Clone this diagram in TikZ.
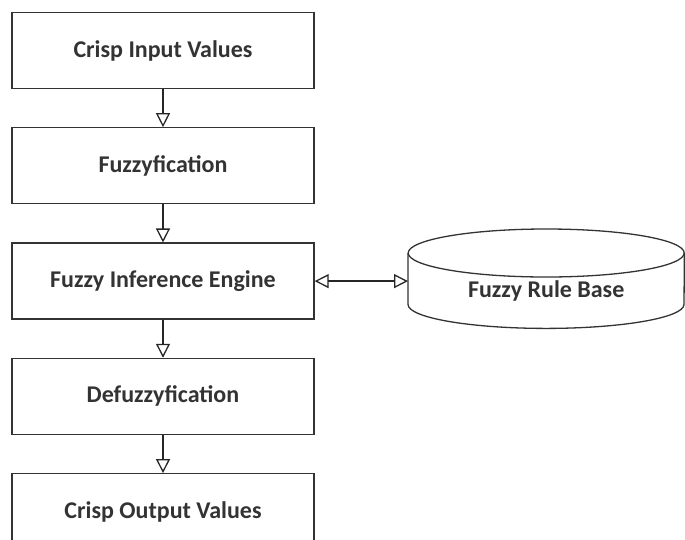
\documentclass[tikz,border=0pt]{standalone}
\usepackage{fontspec}
\setmainfont{Carlito}
\usetikzlibrary{positioning,arrows.meta}

\tikzset{
  stage/.style={draw=black!80, line width=1.3pt, fill=white,
    minimum width=302pt, minimum height=76pt,
    font=\bfseries\fontsize{24}{28}\selectfont, text=black!80},
  flow/.style={draw=black!85, line width=1.3pt,
    -{Triangle[open, length=14pt, width=14pt]}},
  store/.style={draw=black!80, line width=1.3pt},
}

\begin{document}
\begin{tikzpicture}[x=1pt, y=1pt, node distance=38pt]
    \clip (0,0) rectangle (685,-539);

    \node[stage] (input) at (163,-50.5) {Crisp Input Values};
    \node[stage, below=of input] (fuzzify) {Fuzzyfication};
    \node[stage, below=of fuzzify] (engine) {Fuzzy Inference Engine};
    \node[stage, below=of engine] (defuzzify) {Defuzzyfication};
    \node[stage, below=of defuzzify] (output) {Crisp Output Values};

    % rule base drum: body node, top ellipse and lower rim
    \node[minimum width=276pt, minimum height=75pt, inner sep=0pt,
      anchor=north west, font=\bfseries\fontsize{24}{28}\selectfont,
      text=black!80] (rules) at (408,-253) {Fuzzy Rule Base};
    \draw[store] (rules.north) ellipse [x radius=138pt, y radius=24pt];
    \draw[store] (rules.north west) -- ([yshift=24pt]rules.south west)
      arc [start angle=180, end angle=360, x radius=138pt, y radius=24pt]
      -- (rules.north east);

    \draw[flow] (input) -- (fuzzify);
    \draw[flow] (fuzzify) -- (engine);
    \draw[flow] (engine) -- (defuzzify);
    \draw[flow] (defuzzify) -- (output);
    \draw[flow, {Triangle[open, length=14pt, width=14pt]}-{Triangle[open, length=14pt, width=14pt]}] (engine.east) -- (engine.east -| rules.west);
\end{tikzpicture}
\end{document}
